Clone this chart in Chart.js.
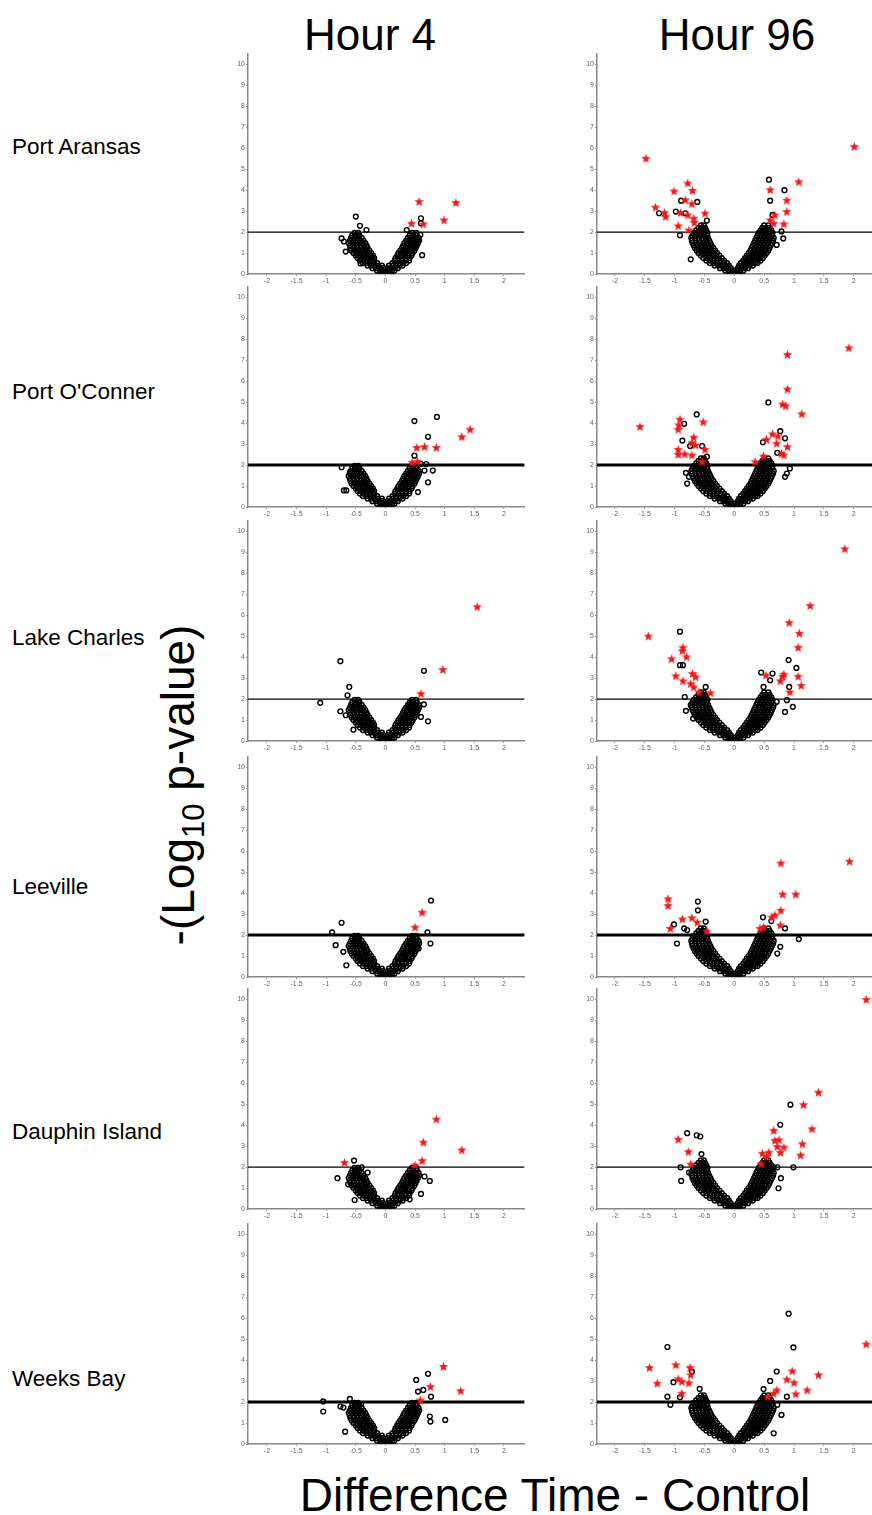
<!DOCTYPE html>
<html>
<head>
<meta charset="utf-8">
<script src="https://cdn.jsdelivr.net/npm/chart.js@4.4.0/dist/chart.umd.min.js"></script>
<style>
body{margin:0;background:#fff;width:872px;height:1515px;overflow:hidden;position:relative;font-family:"Liberation Sans",Arial,sans-serif;}
.t{position:absolute;color:#000;white-space:nowrap;}
canvas{position:absolute;}
</style>
</head>
<body>
<div class="t" style="left:270px;width:200px;top:13px;font-size:44px;line-height:44px;text-align:center;">Hour 4</div>
<div class="t" style="left:637px;width:200px;top:13px;font-size:44px;line-height:44px;text-align:center;">Hour 96</div>
<div class="t" style="left:186px;top:785px;font-size:46px;line-height:50px;transform:translate(-50%,-50%) rotate(-90deg);">-(Log<sub style="font-size:31px;">10</sub> p-value)</div>
<div class="t" style="left:105px;width:900px;top:1472px;font-size:46px;line-height:46px;text-align:center;">Difference Time - Control</div>
<div id="labels"></div>
<div id="panels"></div>
<script>
'use strict';
let xTicks = [-2, -1.5, -1, -0.5, 0, 0.5, 1, 1.5, 2];
let yTicks = [0, 1, 2, 3, 4, 5, 6, 7, 8, 9, 10];
let threshold = 2;
let sites = ['Port Aransas', "Port O'Conner", 'Lake Charles', 'Leeville', 'Dauphin Island', 'Weeks Bay'];
let hours = ['Hour 4', 'Hour 96'];

// dense V of genes near zero, read row by row: [y, [x values]]
let hour4Core = [
  [0.04, [-0.06, -0.02, 0.02, 0.06]],
  [0.16, [-0.14, -0.09, -0.04, 0.01, 0.06, 0.11, 0.15]],
  [0.28, [-0.22, -0.16, -0.1, -0.04, 0.04, 0.1, 0.16, 0.21]],
  [0.40, [-0.3, -0.24, -0.18, -0.12, -0.06, 0.06, 0.12, 0.18, 0.24, 0.29]],
  [0.52, [-0.38, -0.32, -0.26, -0.2, -0.14, 0.12, 0.18, 0.24, 0.3, 0.35]],
  [0.64, [-0.43, -0.37, -0.31, -0.25, -0.19, 0.16, 0.22, 0.28, 0.34, 0.4]],
  [0.76, [-0.47, -0.41, -0.35, -0.29, -0.23, -0.19, 0.17, 0.22, 0.28, 0.34, 0.41]],
  [0.88, [-0.5, -0.44, -0.38, -0.32, -0.26, -0.21, 0.2, 0.26, 0.32, 0.38, 0.44]],
  [1.00, [-0.54, -0.48, -0.42, -0.36, -0.3, -0.24, 0.22, 0.28, 0.34, 0.4, 0.46]],
  [1.12, [-0.57, -0.51, -0.45, -0.39, -0.33, -0.27, 0.25, 0.31, 0.37, 0.43, 0.49]],
  [1.24, [-0.59, -0.53, -0.47, -0.41, -0.35, -0.3, 0.28, 0.34, 0.4, 0.46, 0.51]],
  [1.36, [-0.6, -0.54, -0.48, -0.42, -0.36, -0.32, 0.3, 0.36, 0.42, 0.48, 0.53]],
  [1.48, [-0.62, -0.56, -0.5, -0.44, -0.38, -0.34, 0.32, 0.38, 0.44, 0.5, 0.55]],
  [1.60, [-0.6, -0.54, -0.48, -0.42, -0.37, 0.35, 0.41, 0.47, 0.53, 0.57]],
  [1.72, [-0.58, -0.52, -0.46, -0.4, 0.38, 0.44, 0.5, 0.56]],
  [1.84, [-0.56, -0.5, -0.44, 0.41, 0.47, 0.53]],
  [1.96, [-0.52, -0.46, 0.45, 0.52]]
];
let hour96Core = [
  [0.04, [-0.06, -0.02, 0.02, 0.06]],
  [0.16, [-0.15, -0.1, -0.05, 0, 0.05, 0.1, 0.15]],
  [0.28, [-0.24, -0.18, -0.12, -0.06, 0.06, 0.12, 0.18, 0.23]],
  [0.40, [-0.33, -0.27, -0.21, -0.15, -0.09, 0.08, 0.14, 0.2, 0.26, 0.31]],
  [0.52, [-0.41, -0.35, -0.29, -0.23, -0.17, -0.12, 0.11, 0.17, 0.23, 0.29, 0.35, 0.39]],
  [0.64, [-0.47, -0.41, -0.35, -0.29, -0.23, -0.17, 0.15, 0.21, 0.27, 0.33, 0.39, 0.44]],
  [0.76, [-0.52, -0.46, -0.4, -0.34, -0.28, -0.21, 0.18, 0.24, 0.3, 0.36, 0.42, 0.48]],
  [0.88, [-0.56, -0.5, -0.44, -0.38, -0.32, -0.25, 0.21, 0.27, 0.33, 0.39, 0.45, 0.51]],
  [1.00, [-0.6, -0.54, -0.48, -0.42, -0.36, -0.29, 0.24, 0.3, 0.36, 0.42, 0.48, 0.54]],
  [1.12, [-0.63, -0.57, -0.51, -0.45, -0.39, -0.32, 0.27, 0.33, 0.39, 0.45, 0.51, 0.57]],
  [1.24, [-0.66, -0.6, -0.54, -0.48, -0.42, -0.35, 0.29, 0.35, 0.41, 0.47, 0.53, 0.59]],
  [1.36, [-0.68, -0.62, -0.56, -0.5, -0.44, -0.38, 0.31, 0.37, 0.43, 0.49, 0.55, 0.61]],
  [1.48, [-0.7, -0.64, -0.58, -0.52, -0.46, -0.4, 0.33, 0.39, 0.45, 0.51, 0.57, 0.63]],
  [1.60, [-0.71, -0.65, -0.59, -0.53, -0.47, -0.42, 0.35, 0.41, 0.47, 0.53, 0.59, 0.65]],
  [1.72, [-0.72, -0.66, -0.6, -0.54, -0.48, -0.44, 0.37, 0.43, 0.49, 0.55, 0.61, 0.66]],
  [1.84, [-0.7, -0.64, -0.58, -0.52, -0.46, 0.39, 0.45, 0.51, 0.57, 0.63]],
  [1.96, [-0.68, -0.62, -0.56, -0.5, -0.45, 0.41, 0.47, 0.53, 0.59, 0.64]],
  [2.08, [-0.64, -0.58, -0.52, -0.47, 0.44, 0.5, 0.56, 0.62]],
  [2.20, [-0.6, -0.54, -0.49, 0.47, 0.53, 0.59]],
  [2.32, [-0.56, -0.51, 0.5, 0.57]]
];

// outlying black circles and red stars, [x, y]
let portAransas4Dots = [[-0.5,2.74],[-0.43,2.3],[-0.32,2.1],[-0.74,1.7],[-0.7,1.55],[-0.67,1.07],[0.36,2.1],[0.6,2.66],[0.6,2.42],[0.62,0.9],[0.59,1.87],[0.56,1.63],[0.5,1.3],[-0.59,1.15],[-0.42,0.5]];
let portAransas4Stars = [[0.57,3.46],[0.44,2.42],[0.64,2.39],[0.99,2.58],[1.19,3.41]];
let portAransas96Dots = [[-1.26,2.9],[-0.98,2.98],[-0.91,1.85],[-0.89,3.5],[-0.82,2.9],[-0.73,0.7],[-0.62,3.44],[-0.46,2.55],[0.58,4.5],[0.6,3.5],[0.64,2.82],[0.84,4.0],[0.82,1.7],[0.71,1.39],[0.79,2.03],[0.54,2.1]];
let portAransas96Stars = [[-1.48,5.52],[-1.32,3.19],[-1.17,2.93],[-1.15,2.74],[-1.01,3.96],[-0.94,2.3],[-0.9,2.93],[-0.78,4.34],[-0.82,3.54],[-0.78,2.82],[-0.7,3.99],[-0.71,3.35],[-0.68,2.66],[-0.67,2.46],[-0.76,2.1],[-0.49,2.9],[0.6,4.02],[0.6,2.58],[0.66,2.42],[0.68,2.82],[0.88,3.52],[0.88,2.98],[0.83,2.39],[1.08,4.4],[2.01,6.09]];

let portOConner4Dots = [[0.49,4.1],[0.87,4.3],[0.72,3.35],[0.49,2.45],[-0.74,1.9],[-0.7,0.79],[-0.66,0.79],[-0.6,1.66],[0.72,1.18],[0.66,1.74],[0.8,1.74],[0.55,0.71],[0.69,2.05],[0.6,2.05]];
let portOConner4Stars = [[0.53,2.84],[0.66,2.88],[0.86,2.84],[0.45,2.13],[0.54,2.18],[1.29,3.35],[1.43,3.71]];
let portOConner96Dots = [[-0.63,4.42],[-0.84,3.97],[-0.87,3.17],[-0.74,2.91],[-0.54,2.91],[-0.46,2.4],[-0.81,1.63],[-0.76,1.44],[-0.79,1.12],[0.57,4.99],[0.77,3.62],[0.85,3.28],[0.48,3.09],[0.72,2.59],[0.93,1.84],[0.85,1.44],[0.88,1.6]];
let portOConner96Stars = [[-1.58,3.84],[-0.91,4.19],[-0.93,3.92],[-0.94,3.71],[-0.94,2.75],[-0.94,2.51],[-0.83,2.53],[-0.68,3.33],[-0.71,3.07],[-0.65,2.96],[-0.71,2.48],[-0.52,4.06],[-0.49,2.75],[-0.54,2.16],[0.89,7.28],[0.89,5.63],[0.81,4.91],[0.86,4.83],[1.13,4.45],[0.54,3.23],[0.64,3.49],[0.73,3.39],[0.71,3.04],[0.89,2.88],[0.83,2.48],[0.79,2.56],[0.35,2.16],[0.49,2.43],[1.92,7.6]];

let lakeCharles4Dots = [[-0.76,3.81],[-1.1,1.82],[-0.61,2.58],[-0.64,2.18],[-0.76,1.42],[-0.67,1.23],[-0.54,0.54],[-0.49,1.79],[0.65,3.35],[0.44,1.87],[0.65,1.75],[0.72,0.94],[0.6,1.15],[0.39,1.63]];
let lakeCharles4Stars = [[0.6,2.26],[0.97,3.41],[1.55,6.41]];
let lakeCharles96Dots = [[-0.91,5.22],[-0.91,3.62],[-0.86,3.62],[-0.83,2.1],[-0.81,1.44],[-0.73,1.71],[-0.69,1.07],[-0.48,2.58],[0.45,3.27],[0.64,3.22],[0.49,2.58],[0.6,2.9],[0.91,3.86],[1.04,3.49],[0.92,2.58],[0.98,1.63],[0.85,1.39],[0.71,1.87],[0.88,1.95]];
let lakeCharles96Stars = [[-1.44,5.01],[-1.05,3.92],[-0.86,4.47],[-0.87,4.31],[-0.8,4.02],[-0.98,3.11],[-0.86,2.87],[-0.7,3.22],[-0.65,3.06],[-0.73,2.74],[-0.68,2.58],[-0.59,2.34],[-0.4,2.3],[1.85,9.17],[1.27,6.46],[0.92,5.65],[1.09,5.14],[1.07,4.47],[1.07,3.09],[1.12,2.65],[0.93,2.34],[0.81,3.09],[0.83,3.19],[0.77,2.87],[0.53,3.14]];

let leeville4Dots = [[-0.74,2.59],[-0.9,2.13],[-0.84,1.52],[-0.71,1.2],[-0.66,0.56],[0.77,3.65],[0.71,2.13],[0.76,1.6],[0.56,1.36],[0.41,1.68],[-0.46,1.84]];
let leeville4Stars = [[0.62,3.09],[0.5,2.38]];
let leeville96Dots = [[-0.61,3.6],[-0.61,3.18],[-1.01,2.51],[-0.84,2.32],[-0.96,1.6],[-0.79,2.24],[-0.48,2.64],[0.48,2.85],[0.62,2.67],[0.85,2.32],[1.08,1.81],[0.77,1.44],[0.72,1.12]];
let leeville96Stars = [[-1.11,3.73],[-1.11,3.41],[-1.07,2.32],[-0.87,2.77],[-0.71,2.83],[-0.62,2.61],[-0.46,2.19],[0.78,5.44],[1.93,5.52],[0.81,3.95],[1.03,3.95],[0.78,3.18],[0.68,2.96],[0.63,2.86],[0.49,2.38],[0.43,2.32],[0.77,2.48]];

let dauphinIsland4Dots = [[-0.53,2.31],[-0.4,1.99],[-0.3,1.74],[-0.81,1.47],[-0.63,1.18],[-0.52,0.43],[0.75,1.34],[0.6,0.72],[0.41,0.46],[0.66,1.55],[-0.5,1.63]];
let dauphinIsland4Stars = [[-0.69,2.22],[0.86,4.29],[0.64,3.19],[1.29,2.82],[0.62,2.31],[0.5,2.1]];
let dauphinIsland96Dots = [[0.94,4.98],[0.77,4.02],[0.99,1.99],[-0.79,3.62],[-0.63,3.52],[-0.57,3.46],[-0.55,2.62],[-0.9,1.99],[-0.89,1.34],[-0.76,1.74],[0.74,0.99],[0.78,1.47],[0.66,1.99],[0.72,1.99]];
let dauphinIsland96Stars = [[2.21,10.0],[1.41,5.57],[1.16,4.98],[1.3,3.83],[1.14,3.11],[1.11,2.57],[-0.94,3.33],[-0.77,2.74],[-0.73,2.15],[0.66,3.75],[0.68,3.27],[0.75,3.3],[0.72,2.98],[0.83,2.95],[0.77,2.7],[0.58,2.71],[0.47,2.66],[0.54,2.5],[0.45,2.15]];

let weeksBay4Dots = [[-1.05,2.03],[-1.05,1.55],[-0.6,2.15],[-0.41,1.91],[-0.76,1.79],[-0.71,1.74],[-0.68,0.59],[0.52,3.06],[0.72,3.35],[0.64,2.58],[0.55,2.5],[0.77,2.26],[1.01,1.15],[0.76,1.07],[0.75,1.31]];
let weeksBay4Stars = [[0.98,3.7],[0.76,2.74],[1.27,2.54],[0.59,2.1]];
let weeksBay96Dots = [[-1.12,4.63],[0.91,6.22],[0.99,4.61],[-1.02,2.95],[-1.12,2.26],[-1.07,1.87],[-0.91,2.23],[-0.71,3.46],[-0.58,2.63],[0.71,3.46],[0.6,3.01],[0.49,2.62],[0.88,2.26],[0.79,1.39],[0.72,1.87],[0.66,0.51]];
let weeksBay96Stars = [[-1.42,3.65],[-1.29,2.9],[-0.98,3.78],[-0.94,3.11],[-0.88,2.98],[-0.74,3.65],[-0.73,3.3],[-0.76,2.92],[-0.88,2.42],[0.97,3.49],[1.0,2.93],[1.03,2.39],[1.22,2.58],[1.41,3.3],[2.21,4.77],[0.88,3.09],[0.71,2.58],[0.66,2.42],[0.56,2.26]];

let panelDots = [
  [portAransas4Dots, portAransas96Dots],
  [portOConner4Dots, portOConner96Dots],
  [lakeCharles4Dots, lakeCharles96Dots],
  [leeville4Dots, leeville96Dots],
  [dauphinIsland4Dots, dauphinIsland96Dots],
  [weeksBay4Dots, weeksBay96Dots]
];
let panelStars = [
  [portAransas4Stars, portAransas96Stars],
  [portOConner4Stars, portOConner96Stars],
  [lakeCharles4Stars, lakeCharles96Stars],
  [leeville4Stars, leeville96Stars],
  [dauphinIsland4Stars, dauphinIsland96Stars],
  [weeksBay4Stars, weeksBay96Stars]
];

// layout
let rowZero = [274, 507, 741, 977, 1209, 1444];
let labelMid = [147, 392, 638, 887, 1132, 1379];
let lineWidths = [1.2, 3, 1.2, 3, 1.2, 3];
let colLeft = [230, 579];
let colWidth = [300, 301];
let colRange = [[-2.32, 2.35], [-2.3, 2.35]];
let fontFam = '"Liberation Sans", Arial, sans-serif';

let labels = document.getElementById('labels');
for (let i = 0; i < sites.length; i++) {
  let d = document.createElement('div');
  d.className = 't';
  d.style.cssText = 'left:12px;top:' + (labelMid[i] - 13) + 'px;font-size:22.5px;line-height:26px;';
  d.textContent = sites[i];
  labels.appendChild(d);
}

function makeStar() {
  let c = document.createElement('canvas');
  c.width = 11; c.height = 11;
  let g = c.getContext('2d');
  g.fillStyle = '#f01818';
  g.beginPath();
  for (let i = 0; i < 10; i++) {
    let r = i % 2 ? 2.1 : 5;
    let a = -Math.PI / 2 + i * Math.PI / 5;
    g.lineTo(5.5 + r * Math.cos(a), 5.9 + r * Math.sin(a));
  }
  g.closePath();
  g.fill();
  return c;
}
let starImg = makeStar();

function toPoints(pairs) {
  return pairs.map(p => ({x: p[0], y: p[1]}));
}
function corePoints(levels) {
  let pts = [];
  levels.forEach(l => l[1].forEach(x => pts.push({x: x, y: l[0]})));
  return pts;
}
let cores = [corePoints(hour4Core), corePoints(hour96Core)];

let holder = document.getElementById('panels');
for (let r = 0; r < sites.length; r++) {
  for (let c = 0; c < hours.length; c++) {
    let cv = document.createElement('canvas');
    cv.width = colWidth[c];
    cv.height = 240;
    cv.style.left = colLeft[c] + 'px';
    cv.style.top = (rowZero[r] - 226) + 'px';
    holder.appendChild(cv);
    let xmin = colRange[c][0], xmax = colRange[c][1];
    new Chart(cv.getContext('2d'), {
      type: 'scatter',
      data: {
        datasets: [
          {data: cores[c].concat(toPoints(panelDots[r][c])), pointStyle: 'circle', pointRadius: 2.4, borderWidth: 1.4,
            borderColor: '#000', backgroundColor: 'rgba(0,0,0,0)', order: 2},
          {type: 'line', data: [{x: xmin, y: threshold}, {x: xmax, y: threshold}], borderColor: '#000',
            borderWidth: lineWidths[r], pointRadius: 0, order: 1},
          {data: toPoints(panelStars[r][c]), pointStyle: starImg, pointRadius: 4, order: 0}
        ]
      },
      options: {
        responsive: false,
        animation: false,
        devicePixelRatio: 1,
        layout: {padding: {top: 6, right: 4, left: 0, bottom: 0}},
        plugins: {legend: {display: false}, tooltip: {enabled: false}},
        scales: {
          x: {
            type: 'linear', min: xmin, max: xmax,
            afterBuildTicks: s => { s.ticks = xTicks.map(v => ({value: v})); },
            afterFit: s => { s.height = 14; },
            grid: {drawOnChartArea: false, tickLength: 2, color: '#999'},
            border: {color: '#888', width: 1.5},
            ticks: {font: {size: 7, family: fontFam}, color: '#666', padding: 1, maxRotation: 0, autoSkip: false,
              callback: v => String(v)}
          },
          y: {
            min: 0, max: 10.5,
            afterBuildTicks: s => { s.ticks = yTicks.map(v => ({value: v})); },
            afterFit: s => { s.width = 18; },
            grid: {drawOnChartArea: false, tickLength: 2, color: '#999'},
            border: {color: '#888', width: 1.5},
            ticks: {font: {size: 7, family: fontFam}, color: '#666', padding: 1, autoSkip: false,
              callback: v => String(v)}
          }
        }
      }
    });
  }
}
</script>
</body>
</html>
